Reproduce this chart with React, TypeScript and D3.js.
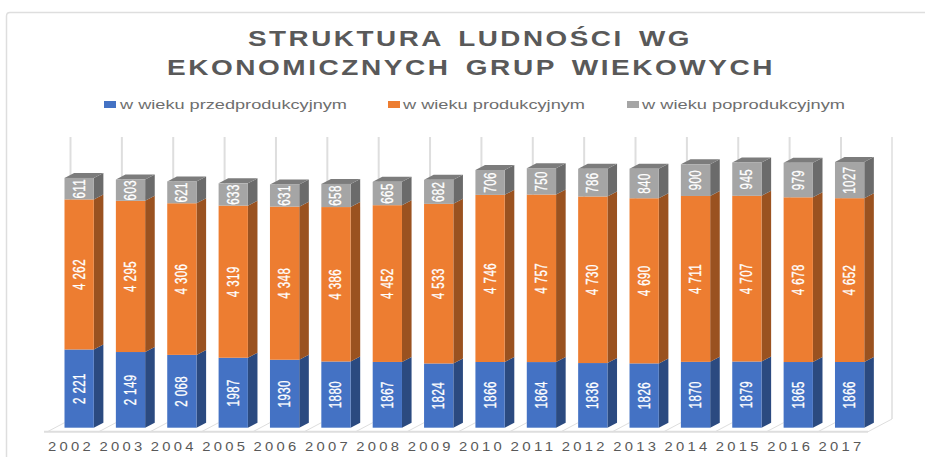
import React from "react";
import * as d3 from "d3";

const years = ["2002","2003","2004","2005","2006","2007","2008","2009","2010","2011","2012","2013","2014","2015","2016","2017"];
const young = [2221,2149,2068,1987,1930,1880,1867,1824,1866,1864,1836,1826,1870,1879,1865,1866];
const working = [4262,4295,4306,4319,4348,4386,4452,4533,4746,4757,4730,4690,4711,4707,4678,4652];
const old = [611,603,621,633,631,658,665,682,706,750,786,840,900,945,979,1027];
const seriesNames = ["w wieku przedprodukcyjnym","w wieku produkcyjnym","w wieku poprodukcyjnym"];
const front = ["#4472c4","#ed7d31","#a5a5a5"];
const side = ["#2b4a80","#9a5220","#6b6b6b"];
const top3 = ["#345a9c","#b8611f","#7c7c7c"];
const titleLines = ["STRUKTURA LUDNOŚCI WG","EKONOMICZNYCH GRUP WIEKOWYCH"];
const fmt = (v: number) => v >= 2000 ? String(v).replace(/(\d)(\d{3})$/, "$1 $2") : String(v);

const keys = ["young","working","old"];
const rows = years.map((y,i)=>({year:y,young:young[i],working:working[i],old:old[i]}));
const stacked = d3.stack<any>().keys(keys)(rows);

const x = d3.scaleBand().domain(years).range([51.66,877.1]).paddingInner(0.43).paddingOuter(0.25);
const y = d3.scaleLinear().domain([0,8000]).range([427.7,146]);
const dx = 9.6, dy = -5;
const font = "Liberation Sans, Arial, sans-serif";
const titleX = [248,167], titleW = [444,608];
const legX = [104,388,627], legTextX = [120,403,642], legW = [227,182,203];

export default function App(){
  return <svg width={925} height={457} style={{position:"absolute",left:0,top:0,background:"#fff"}}>
    <path d="M6.5,457V16Q6.5,12.5,10,12.5H925" fill="none" stroke="#dedede" strokeWidth={1.5}/>
    {titleLines.map((t,i)=><text key={t} x={titleX[i]} y={46+i*28.5} textLength={titleW[i]} lengthAdjust="spacingAndGlyphs" fontFamily={font} fontSize={22} fontWeight={700} letterSpacing={2} wordSpacing={4} fill="#595959">{t}</text>)}
    {seriesNames.map((n,i)=><g key={n}>
      <rect x={legX[i]} y={101} width={12} height={7} fill={front[i]}/>
      <text x={legTextX[i]} y={109} textLength={legW[i]} lengthAdjust="spacingAndGlyphs" fontFamily={font} fontSize={13.5} fill="#6e6e6e">{n}</text>
    </g>)}
    <line x1={892} x2={892} y1={137} y2={419} stroke="#dedede" strokeWidth={1.5}/>
    <line x1={44} x2={868} y1={431.7} y2={431.7} stroke="#dedede" strokeWidth={2}/>
    <line x1={868} x2={892} y1={431.7} y2={419} stroke="#dedede" strokeWidth={1}/>
    {years.map(yr=>{const b=x(yr)!;return <g key={yr}>
      <line x1={b+6} x2={b+6} y1={137} y2={200} stroke="#dedede" strokeWidth={2}/>
      <line x1={b-17} x2={b} y1={431.7} y2={422.7} stroke="#dedede" strokeWidth={1}/>
    </g>})}
    {stacked.map((s,si)=><g key={s.key}>
      {s.map((d,i)=>{
        const b=x(years[i])!, w=x.bandwidth(), yt=y(d[1]), yb=y(d[0]);
        return <g key={i}>
          <path d={`M${b+w},${yt}L${b+w+dx},${yt+dy}L${b+w+dx},${yb+dy}L${b+w},${yb}Z`} fill={side[si]}/>
          {si===2 && <path d={`M${b},${yt}L${b+dx},${yt+dy}L${b+w+dx},${yt+dy}L${b+w},${yt}Z`} fill={top3[si]}/>}
          <rect x={b} y={yt} width={w} height={yb-yt} fill={front[si]}/>
          <text transform={`translate(${b+w/2+5.5},${(yt+yb)/2}) rotate(-90) scale(0.72,1)`} textAnchor="middle" fontFamily={font} fontSize={16} letterSpacing={0.6} stroke="#fff" strokeWidth={0.3} fill="#fff">{fmt(d[1]-d[0])}</text>
        </g>;
      })}
    </g>)}
    {years.map(yr=><text key={yr} x={x(yr)!+x.bandwidth()/2-31} y={450.5} textLength={46} lengthAdjust="spacingAndGlyphs" fontFamily={font} fontSize={13.5} letterSpacing={3} fill="#595959">{yr}</text>)}
  </svg>;
}
